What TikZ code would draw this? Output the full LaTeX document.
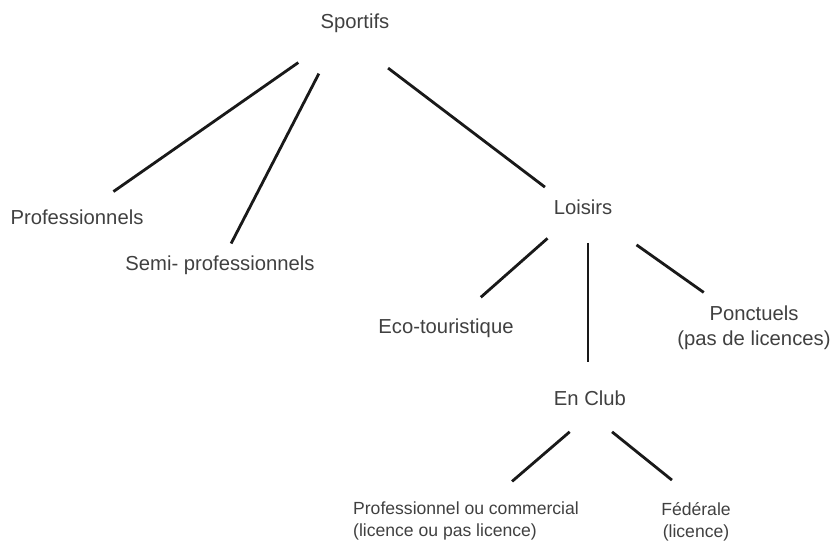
\documentclass[tikz,border=0pt]{standalone}
\usepackage{fontspec}
\setmainfont{Liberation Sans}
\usetikzlibrary{calc}

\begin{document}
\begin{tikzpicture}[
  x=0.025cm, y=-0.025cm,
  categ/.style={font=\fontsize{14.4}{17.8}\selectfont, text=black!75, inner sep=2pt},
  subcateg/.style={categ, font=\fontsize{12.5}{15.5}\selectfont},
  branch/.style={line width=2pt, black!90}
]
\useasboundingbox (0,0) rectangle (833,545);

% ==================== NODES ====================
% Root
\node[categ] (sportifs) at (355,23) {Sportifs};

% First level
\node[categ] (pro) at (77,217) {Professionnels};
\node[categ] (semipro) at (220,265) {Semi- professionnels};
\node[categ] (loisirs) at (583,207) {Loisirs};

% Loisirs children
\node[categ] (eco) at (446,328) {Eco-touristique};
\node[categ, align=center] (ponctuels) at (754,328) {Ponctuels\\(pas de licences)};
\node[categ] (club) at (590,398) {En Club};

% En Club children
\node[subcateg, align=left] (commercial) at (466,521) {Professionnel ou commercial\\(licence ou pas licence)};
\node[subcateg, align=center] (federale) at (696,522) {Fédérale\\(licence)};

% ==================== CONNECTIONS ====================
% Sportifs to first level
\draw[branch] ($(sportifs)!0.204!(pro)$) -- ($(sportifs)!0.869!(pro)$);
\draw[branch] ($([shift={(-10,0)}]sportifs.center)!0.209!(semipro)$) -- ($([shift={(-10,0)}]sportifs.center)!0.911!(semipro)$);
\draw[branch] ($([shift={(0,20)}]sportifs.center)!0.145!([shift={(0,9)}]loisirs.center)$) -- ($([shift={(0,20)}]sportifs.center)!0.833!([shift={(0,9)}]loisirs.center)$);

% Loisirs to its children
\draw[branch] ($(loisirs)!0.259!(eco)$) -- ($(loisirs)!0.746!(eco)$);
\draw[branch] ($([shift={(5,0)}]loisirs.center)!0.188!([shift={(-2,0)}]club.center)$) -- ($([shift={(5,0)}]loisirs.center)!0.812!([shift={(-2,0)}]club.center)$);
\draw[branch] ($(loisirs)!0.313!(ponctuels)$) -- ($(loisirs)!0.706!(ponctuels)$);

% En Club to its children
\draw[branch] ($([shift={(19,0)}]club.center)!0.275!(commercial)$) -- ($([shift={(19,0)}]club.center)!0.678!(commercial)$);
\draw[branch] ($([shift={(-20,0)}]club.center)!0.273!([shift={(28,0)}]federale.center)$) -- ($([shift={(-20,0)}]club.center)!0.662!([shift={(28,0)}]federale.center)$);
\end{tikzpicture}
\end{document}
